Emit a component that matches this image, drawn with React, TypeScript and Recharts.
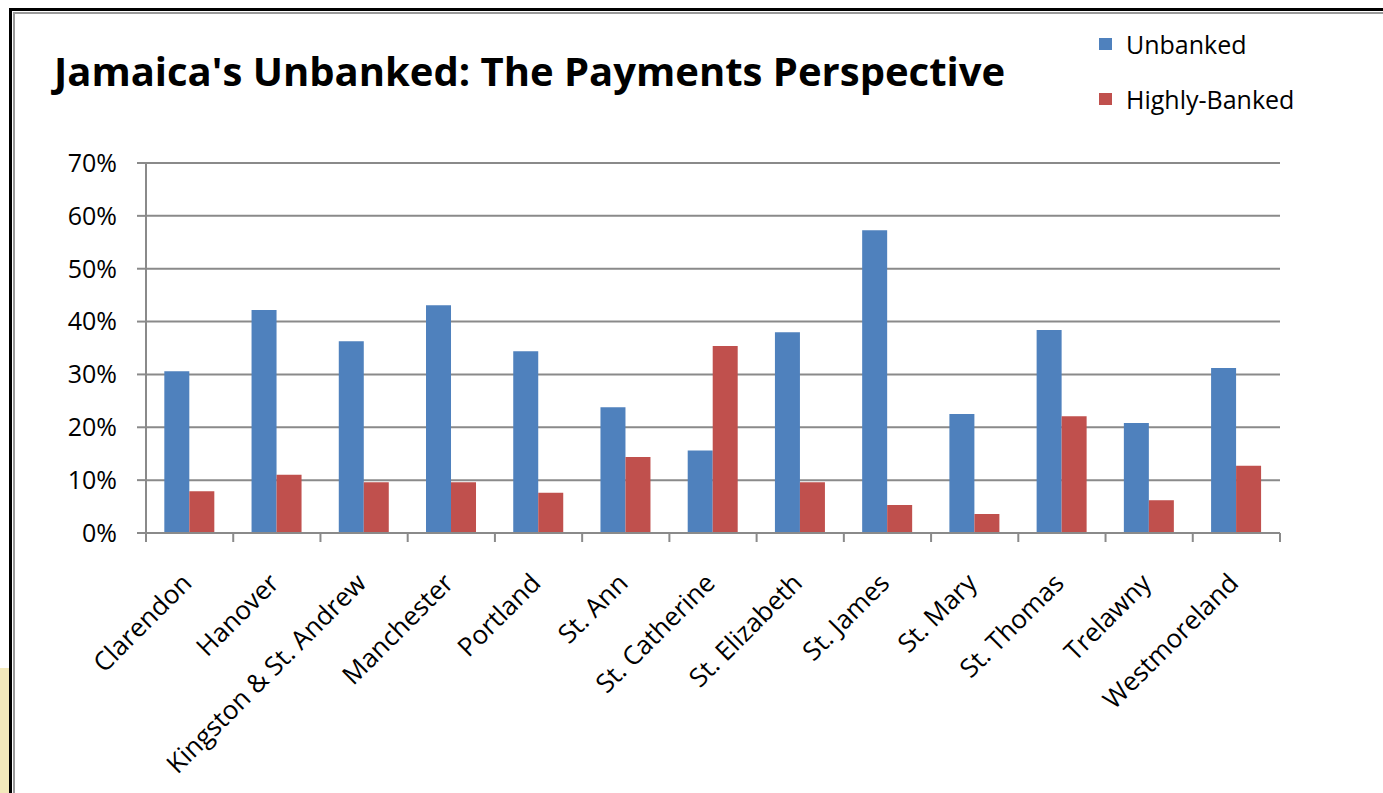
import { Bar, BarChart, CartesianGrid, XAxis, YAxis } from "recharts";

const parishes = [
  "Clarendon",
  "Hanover",
  "Kingston & St. Andrew",
  "Manchester",
  "Portland",
  "St. Ann",
  "St. Catherine",
  "St. Elizabeth",
  "St. James",
  "St. Mary",
  "St. Thomas",
  "Trelawny",
  "Westmoreland",
];
const unbanked = [30.6, 42.2, 36.3, 43.1, 34.4, 23.8, 15.6, 38.0, 57.3, 22.5, 38.4, 20.8, 31.2];
const highlyBanked = [7.9, 11.0, 9.6, 9.6, 7.6, 14.4, 35.4, 9.6, 5.3, 3.6, 22.1, 6.2, 12.7];
const yTicks = [0, 10, 20, 30, 40, 50, 60, 70];

const data = parishes.map((name, i) => ({
  name,
  Unbanked: unbanked[i],
  "Highly-Banked": highlyBanked[i],
}));

const W = 1383;
const H = 793;
const PLOT_LEFT = 146;
const PLOT_RIGHT = 1280;
const PLOT_TOP = 163;
const PLOT_BOTTOM = 533;
const BAND = (PLOT_RIGHT - PLOT_LEFT) / parishes.length;
const FONT = "'Open Sans', sans-serif";
const AXIS = "#8a8a8a";

function ParishTick(props: any) {
  const { x, y, payload, index } = props;
  return (
    <g>
      <line x1={x - BAND / 2} x2={x - BAND / 2} y1={y} y2={y + 9} stroke={AXIS} strokeWidth={2} />
      {index === parishes.length - 1 && (
        <line x1={x + BAND / 2} x2={x + BAND / 2} y1={y} y2={y + 9} stroke={AXIS} strokeWidth={2} />
      )}
      <g transform={`translate(${x - 2},${y + 46})`}>
        <text transform="rotate(-45)" textAnchor="end" fontSize={26} fill="#000" fontFamily={FONT} dy={8}>
          {payload.value}
        </text>
      </g>
    </g>
  );
}

const legendItems = [
  { label: "Unbanked", color: "#4f81bd" },
  { label: "Highly-Banked", color: "#c0504d" },
];

export default function App() {
  return (
    <div style={{ position: "absolute", left: 0, top: 0, width: W, height: H, background: "#fff", overflow: "hidden" }}>
      <div style={{ position: "absolute", left: 0, top: 668, width: 9, height: H - 668, background: "#f3e9bb" }} />
      <div style={{ position: "absolute", left: 9, top: 8, width: W, height: H, borderLeft: "3px solid #000", borderTop: "3px solid #000" }} />
      <div style={{ position: "absolute", left: 13, top: 12, width: W, height: H, borderLeft: "2px solid #9a9a9a", borderTop: "2px solid #9a9a9a" }} />
      <div
        style={{
          position: "absolute",
          left: 54,
          top: 43,
          fontFamily: FONT,
          fontWeight: 700,
          fontSize: 40,
          color: "#000",
          whiteSpace: "nowrap",
        }}
      >
        Jamaica's Unbanked: The Payments Perspective
      </div>
      <div style={{ position: "absolute", left: 1099, top: 16, fontFamily: FONT, fontSize: 25, color: "#000" }}>
        {legendItems.map((it) => (
          <div key={it.label} style={{ display: "flex", alignItems: "center", height: 55 }}>
            <span style={{ display: "inline-block", width: 13, height: 12, background: it.color, marginRight: 14 }} />
            <span>{it.label}</span>
          </div>
        ))}
      </div>
      <div style={{ position: "absolute", left: 0, top: 0 }}>
        <BarChart
          width={W}
          height={H}
          data={data}
          margin={{ top: PLOT_TOP, right: W - PLOT_RIGHT, bottom: 0, left: 0 }}
          barCategoryGap="21%"
          barGap={0}
        >
          <CartesianGrid vertical={false} stroke={AXIS} strokeWidth={2} strokeDasharray="" />
          <XAxis
            dataKey="name"
            interval={0}
            tickLine={false}
            tickSize={0}
            tickMargin={0}
            axisLine={{ stroke: AXIS, strokeWidth: 2 }}
            tick={<ParishTick />}
            height={H - PLOT_BOTTOM}
          />
          <YAxis
            width={PLOT_LEFT}
            domain={[0, 70]}
            ticks={yTicks}
            tickFormatter={(v: number) => `${v}%`}
            tickSize={9}
            tickMargin={20}
            tickLine={{ stroke: AXIS, strokeWidth: 2 }}
            axisLine={{ stroke: AXIS, strokeWidth: 2 }}
            tick={{ fill: "#000", fontSize: 25, fontFamily: FONT }}
          />
          <Bar dataKey="Unbanked" fill="#4f81bd" isAnimationActive={false} />
          <Bar dataKey="Highly-Banked" fill="#c0504d" isAnimationActive={false} />
        </BarChart>
      </div>
    </div>
  );
}
